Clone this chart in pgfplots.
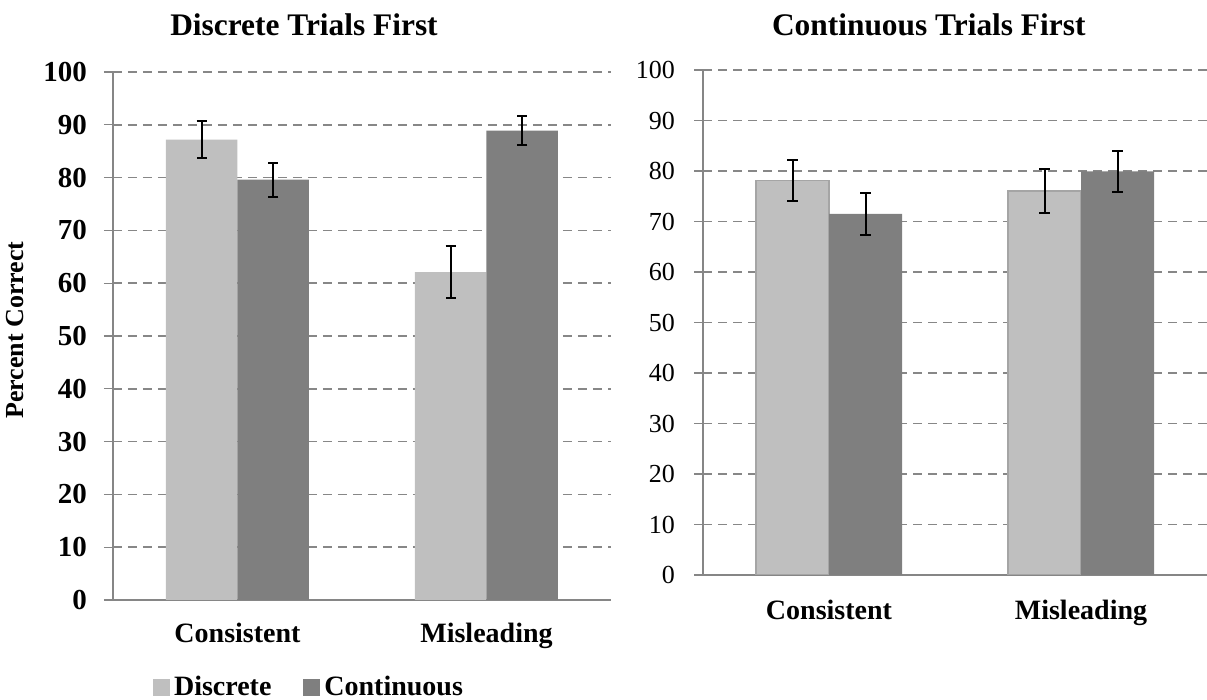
\documentclass[border=0pt]{standalone}
\usepackage{pgfplots}
\pgfplotsset{compat=1.18}
\usepackage{fontspec}
\setmainfont{Liberation Serif}
\definecolor{lgray}{HTML}{BFBFBF}
\definecolor{dgray}{HTML}{7F7F7F}
\definecolor{gridc}{HTML}{878787}
\definecolor{axc}{HTML}{868686}
\definecolor{edgec}{HTML}{A5A5A5}

\pgfplotsset{
  common/.style={
    scale only axis,
    ybar=0pt,
    ymin=0, ymax=100,
    ytick={0,10,...,100},
    xmin=0.5, xmax=2.5,
    xtick={1,2},
    xticklabels={Consistent,Misleading},
    xtick style={draw=none},
    extra x ticks={0.5,1.5,2.5},
    extra x tick labels={},
    extra x tick style={grid=none, major tick length=4.5pt, tick style={draw=axc, line width=0.6pt}},
    axis x line=bottom,
    axis y line=left,
    axis line style={draw=axc, line width=0.6pt, -},
    ytick style={draw=axc, line width=0.6pt},
    tick align=outside,
    major tick length=4.5pt,
    ymajorgrids,
    major grid style={draw=gridc, dash pattern=on 4.5pt off 3pt, line width=0.8pt},
    /pgf/number format/assume math mode=true,
    error bars/error bar style={black, line width=1pt},
    error bars/error mark options={black, rotate=90, mark size=2.6pt, line width=1pt},
    legend image code/.code={\path[#1, draw=none] (0pt,-4.25pt) rectangle (8.5pt,4.25pt);},
  }
}

\begin{document}
\begin{tikzpicture}
\path[use as bounding box] (0pt,0pt) rectangle (603.5pt,350pt);

\begin{axis}[common,
  at={(56.5pt,50pt)}, anchor=origin,
  width=249pt, height=264pt,
  bar width=35.75pt,
  yticklabel style={font=\fontsize{14.5}{16}\selectfont\bfseries, xshift=-5pt},
  xticklabel style={font=\fontsize{14}{16}\selectfont\bfseries, yshift=-3.5pt},
  title={Discrete Trials First},
  title style={at={(axis description cs:0.3835,1.066)}, anchor=center, font=\fontsize{15.7}{18}\selectfont\bfseries},
  ylabel={Percent Correct},
  ylabel style={at={(axis description cs:-0.197,0.511)}, anchor=center, font=\fontsize{13}{15}\selectfont\bfseries},
  legend columns=2,
  legend style={at={(axis description cs:0.3956,-0.165)}, anchor=center, draw=none, fill=none,
    font=\fontsize{14}{16}\selectfont\bfseries, inner sep=0pt,
    /tikz/every even column/.append style={column sep=14pt}},
  legend cell align=left,
]
\addplot[fill=lgray, draw=none, error bars/.cd, y dir=both, y explicit]
  coordinates {(1,87.2) +- (0,3.5) (2,62.1) +- (0,4.95)};
\addplot[fill=dgray, draw=none, error bars/.cd, y dir=both, y explicit]
  coordinates {(1,79.6) +- (0,3.25) (2,88.9) +- (0,2.8)};
\legend{Discrete,Continuous}
\end{axis}

\begin{axis}[common,
  at={(351.5pt,62.5pt)}, anchor=origin,
  width=252pt, height=252.5pt,
  bar width=36.5pt,
  yticklabel style={font=\fontsize{13}{15}\selectfont, xshift=-6pt},
  xticklabel style={font=\fontsize{14}{16}\selectfont\bfseries, yshift=-4.5pt},
  title={Continuous Trials First},
  title style={at={(axis description cs:0.448,1.065)}, anchor=center, font=\fontsize{15.7}{18}\selectfont\bfseries},
]
\addplot[fill=lgray, draw=edgec, line width=0.75pt, error bars/.cd, y dir=both, y explicit]
  coordinates {(1,78.1) +- (0,4.0) (2,76.0) +- (0,4.4)};
\addplot[fill=dgray, draw=none, error bars/.cd, y dir=both, y explicit]
  coordinates {(1,71.5) +- (0,4.2) (2,79.9) +- (0,4.0)};
\end{axis}
\end{tikzpicture}
\end{document}
